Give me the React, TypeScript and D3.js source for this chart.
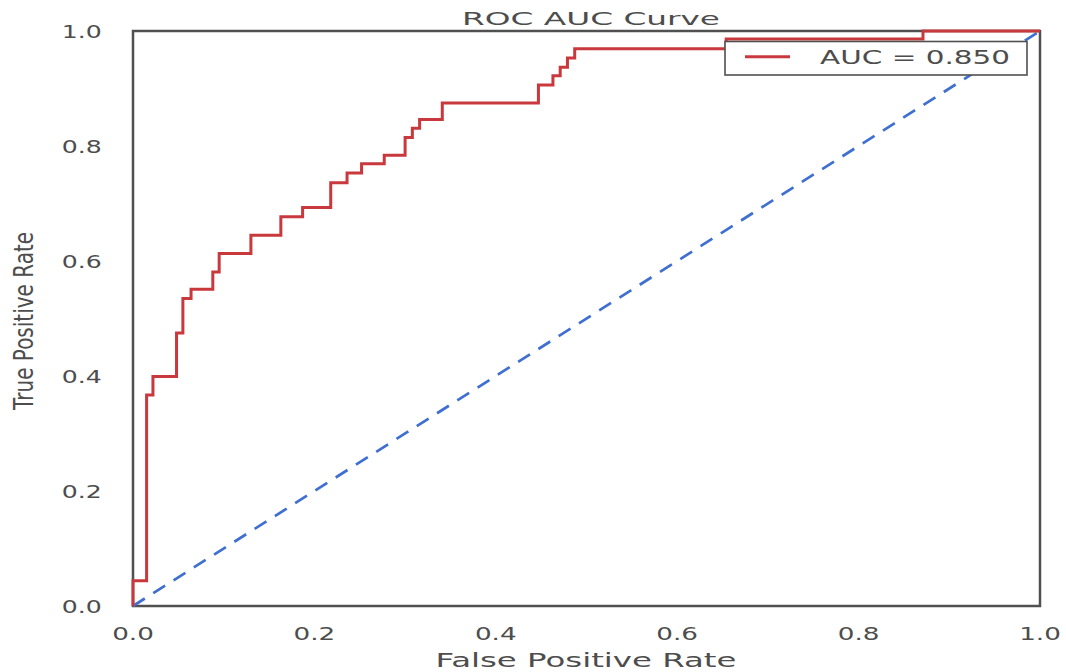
import React from "react";
import * as d3 from "d3";

const rocFpr = [0, 0, 0.015, 0.015, 0.022, 0.022, 0.048, 0.048, 0.055, 0.055, 0.064, 0.064, 0.088, 0.088, 0.095, 0.095, 0.130, 0.130, 0.163, 0.163, 0.187, 0.187, 0.218, 0.218, 0.236, 0.236, 0.252, 0.252, 0.277, 0.277, 0.300, 0.300, 0.308, 0.308, 0.316, 0.316, 0.341, 0.341, 0.447, 0.447, 0.463, 0.463, 0.471, 0.471, 0.479, 0.479, 0.487, 0.487, 0.654, 0.654, 0.871, 0.871, 1.0];
const rocTpr = [0, 0.044, 0.044, 0.367, 0.367, 0.399, 0.399, 0.475, 0.475, 0.535, 0.535, 0.551, 0.551, 0.581, 0.581, 0.613, 0.613, 0.645, 0.645, 0.677, 0.677, 0.693, 0.693, 0.736, 0.736, 0.753, 0.753, 0.769, 0.769, 0.784, 0.784, 0.815, 0.815, 0.831, 0.831, 0.846, 0.846, 0.875, 0.875, 0.906, 0.906, 0.922, 0.922, 0.937, 0.937, 0.953, 0.953, 0.969, 0.969, 0.986, 0.986, 1.0, 1.0];
const diagonal = [0, 1];
const tickValues = [0, 0.2, 0.4, 0.6, 0.8, 1.0];
const tickLabels = ["0.0", "0.2", "0.4", "0.6", "0.8", "1.0"];
const titleText = "ROC AUC Curve";
const xLabelText = "False Positive Rate";
const yLabelText = "True Positive Rate";
const legendText = "AUC = 0.850";

export default function App() {
  const W = 1066, H = 672;
  const x = d3.scaleLinear().domain([0, 1]).range([133, 1040]);
  const y = d3.scaleLinear().domain([0, 1]).range([606, 31]);
  const pts = rocFpr.map((f, i) => [f, rocTpr[i]] as [number, number]);
  const line = d3.line<[number, number]>().x(d => x(d[0])).y(d => y(d[1]));
  const diagPts = diagonal.map(v => [v, v] as [number, number]);
  const font = "DejaVu Sans";
  const textColor = "#4d4d4d";
  const red = "#c9383c";
  const blue = "#3f6fd0";
  return (
    <svg width={W} height={H} style={{ position: "absolute", left: 0, top: 0 }} fontFamily={font}>
      <rect x={0} y={0} width={W} height={H} fill="#fff" />
      <text x={591} y={25} fontSize={18} fill={textColor} textAnchor="middle" textLength={258} lengthAdjust="spacingAndGlyphs">{titleText}</text>
      {tickValues.map((v, i) => (
        <text key={"xt" + i} x={x(v)} y={640} fontSize={18.3} fill={textColor} textAnchor="middle" textLength={41.7} lengthAdjust="spacingAndGlyphs">{tickLabels[i]}</text>
      ))}
      {tickValues.map((v, i) => (
        <text key={"yt" + i} x={101.7} y={y(v) + 6.7} fontSize={18.3} fill={textColor} textAnchor="end" textLength={40} lengthAdjust="spacingAndGlyphs">{tickLabels[i]}</text>
      ))}
      <text x={586} y={667} fontSize={19} fill={textColor} textAnchor="middle" textLength={301} lengthAdjust="spacingAndGlyphs">{xLabelText}</text>
      <g transform={`translate(33, 321) scale(1.4, 1) rotate(-90)`}>
        <text x={0} y={0} fontSize={19.5} fill={textColor} textAnchor="middle" textLength={178} lengthAdjust="spacingAndGlyphs">{yLabelText}</text>
      </g>
      <rect x={133} y={31} width={907} height={575} fill="none" stroke="#505050" strokeWidth={2.5} />
      <path d={line(diagPts) || ""} fill="none" stroke={blue} strokeWidth={2.7} strokeDasharray="14,10" />
      <path d={line(pts) || ""} fill="none" stroke={red} strokeWidth={3} />
      <rect x={725} y={41.5} width={302} height={33.5} fill="#fff" stroke="#505050" strokeWidth={1.6} />
      <line x1={745} x2={790} y1={56.7} y2={56.7} stroke={red} strokeWidth={3} />
      <text x={820} y={64} fontSize={19} fill={textColor} textLength={190} lengthAdjust="spacingAndGlyphs">{legendText}</text>
    </svg>
  );
}
